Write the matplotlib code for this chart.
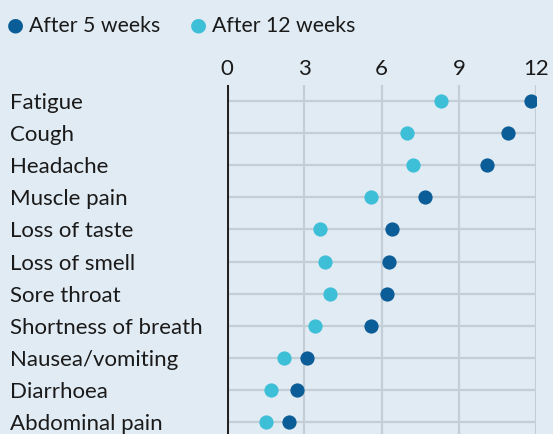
import matplotlib.pyplot as plt

symptoms = ["Fatigue", "Cough", "Headache", "Muscle pain", "Loss of taste",
            "Loss of smell", "Sore throat", "Shortness of breath",
            "Nausea/vomiting", "Diarrhoea", "Abdominal pain"]
week5 = [11.8, 10.9, 10.1, 7.7, 6.4, 6.3, 6.2, 5.6, 3.1, 2.7, 2.4]
week12 = [8.3, 7.0, 7.2, 5.6, 3.6, 3.8, 4.0, 3.4, 2.2, 1.7, 1.5]
xticks = [0, 3, 6, 9, 12]

bg = "#e1ebf3"
dark = "#0b5d98"
light = "#3dbfd8"
font = "Lato"
txt = "#1a1a1a"

W, H = 553, 434
fig = plt.figure(figsize=(W / 100, H / 100), dpi=100, facecolor=bg)
ax = fig.add_axes([227.3 / W, 0, (536 - 227.3) / W, 1 - 85 / H])
ax.set_facecolor(bg)

rows = list(range(len(symptoms)))
# horizontal guide lines for each symptom
for r in rows:
    ax.plot([0, 12], [r, r], color="#c3ced7", lw=1.6, zorder=1)
for t in xticks[1:]:
    ax.axvline(t, color="#c3ced7", lw=1.6, zorder=1)
ax.axvline(0, color="#222222", lw=2.2, zorder=3)

ax.scatter(week12, rows, s=105, color=light, zorder=4, linewidths=0)
ax.scatter(week5, rows, s=105, color=dark, zorder=4, linewidths=0)

ax.set_xlim(0, 12)
ax.set_ylim(10.37, -0.5)
ax.set_xticks(xticks)
ax.xaxis.tick_top()
ax.tick_params(axis="x", length=0, pad=4, labelsize=16)
for lab in ax.get_xticklabels():
    lab.set_fontfamily(font)
    lab.set_color(txt)
ax.set_yticks([])
for s in ax.spines.values():
    s.set_visible(False)

for r, name in zip(rows, symptoms):
    fig.text(10 / W, 1 - (103 + 32.1 * r) / H, name, fontsize=16,
             family=font, color=txt, va="center", ha="left")

# legend
for x, lbl, c in [(15, "After 5 weeks", dark), (198, "After 12 weeks", light)]:
    fig.text(x / W, 1 - 25 / H, "\u25cf", fontsize=14, color=c,
             va="center", ha="center")
    fig.text((x + 14) / W, 1 - 26 / H, lbl, fontsize=15.3, family=font,
             color=txt, va="center", ha="left")

fig.savefig("out.png", dpi=100, facecolor=bg)
